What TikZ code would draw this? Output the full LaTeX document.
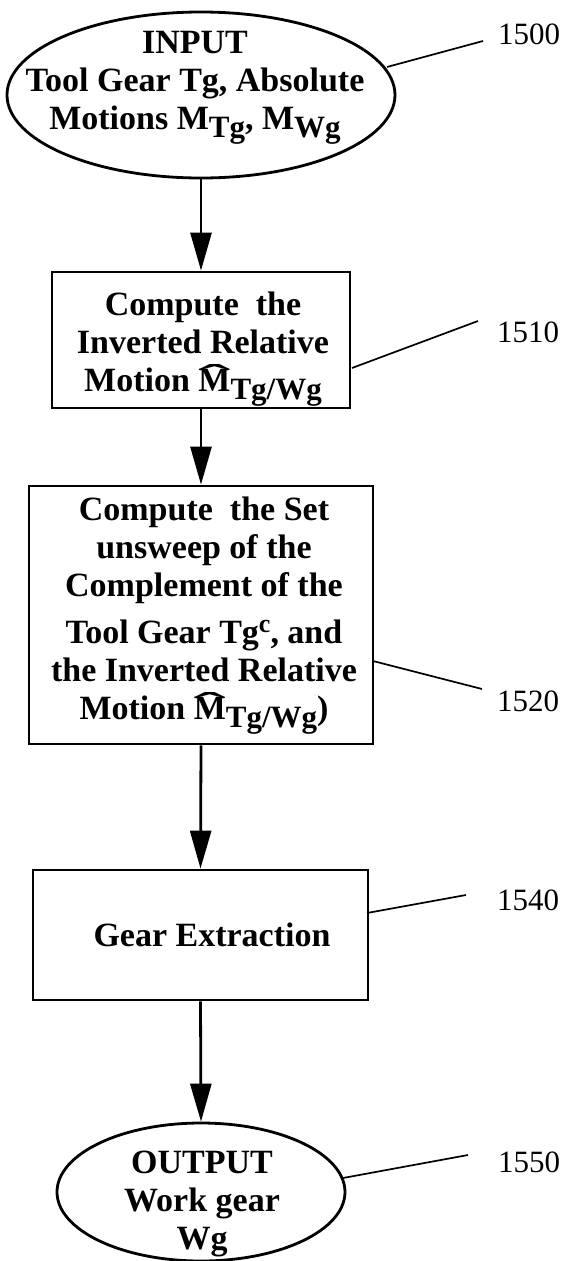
\documentclass[tikz,border=0pt]{standalone}
\usepackage{fontspec}
\setmainfont{Liberation Serif}
\usetikzlibrary{shapes.geometric,arrows.meta}
\newcommand\mysub[1]{\raisebox{-8pt}{\fontsize{31}{31}\selectfont #1}}
\newcommand\mysup[1]{\raisebox{11pt}{\fontsize{26}{26}\selectfont #1}}
\newcommand\hatM{{\setbox0=\hbox{M}\rlap{\smash{\makebox[\wd0]{\raisebox{1pt}{\mdseries\scalebox{2.8}[1.1]{\char"02C6}}}}}\box0}}
\newcommand\firstline{\rule{0pt}{25pt}}
\begin{document}
\begin{tikzpicture}[x=1pt,y=-1pt,
  txt/.style={font=\fontsize{34}{38}\selectfont\bfseries, align=center, inner sep=0pt, anchor=north},
  stepbox/.style={draw, line width=2.8pt, rectangle, inner sep=0pt},
  term/.style={draw, line width=2.8pt, ellipse, inner sep=0pt},
  flow/.style={line width=2.8pt, -{Triangle[length=38pt,width=21pt]}},
  lead/.style={line width=1.7pt},
  num/.style={font=\fontsize{31}{31}\selectfont, anchor=base west, inner sep=0pt}]
\useasboundingbox (0,0) rectangle (568,1261);

% shapes
\node[term, minimum width=388pt, minimum height=166pt] (e1) at (201,95) {};
\node[stepbox, minimum width=298pt, minimum height=136pt] (b1) at (201,340) {};
\node[stepbox, minimum width=344pt, minimum height=258pt] (b2) at (201,615) {};
\node[stepbox, minimum width=335pt, minimum height=130pt] (b3) at (200.5,935) {};
\node[term, minimum width=288pt, minimum height=138pt] (e2) at (201,1192) {};

% texts
\node[txt] (e1t) at (195,28) {\firstline INPUT\\Tool Gear Tg, Absolute\\Motions M\mysub{Tg}, M\mysub{Wg}};
\node[txt] (b1t) at (203,290) {\firstline Compute~ the\\Inverted Relative\\Motion \hatM\mysub{Tg/Wg}};
\node[txt] (b2t) at (204,495) {\firstline Compute~ the Set\\unsweep of the\\Complement of the\\[9pt]Tool Gear Tg\mysup{c}, and\\the Inverted Relative\\Motion \hatM\mysub{Tg/Wg})};
\node[txt, anchor=base] (b3t) at (212,946) {Gear Extraction};
\node[txt] (e2t) at (202,1148) {\firstline OUTPUT\\Work gear\\Wg};

% flow arrows
\draw[flow] (e1.south) -- (b1.north);
\draw[flow] (b1.south) -- (b2.north);
\draw[flow] (b2.south) -- (b3.north);
\draw[flow] (b3.south) -- (e2.north);

% reference numerals
\node[num] (n1500) at (498,44) {1500};
\node[num] (n1510) at (497,342) {1510};
\node[num] (n1520) at (497,711) {1520};
\node[num] (n1540) at (497,910) {1540};
\node[num] (n1550) at (498,1172) {1550};

\coordinate (a1500) at (387,67);   \coordinate (z1500) at (483,41);
\coordinate (a1510) at (352,368);  \coordinate (z1510) at (478,321);
\coordinate (a1520) at (373,661);  \coordinate (z1520) at (482,689);
\coordinate (a1540) at (367,913);  \coordinate (z1540) at (466,895);
\coordinate (a1550) at (343,1178); \coordinate (z1550) at (468,1155);
\draw[lead] (a1500) -- (z1500);
\draw[lead] (a1510) -- (z1510);
\draw[lead] (a1520) -- (z1520);
\draw[lead] (a1540) -- (z1540);
\draw[lead] (a1550) -- (z1550);
\end{tikzpicture}
\end{document}
